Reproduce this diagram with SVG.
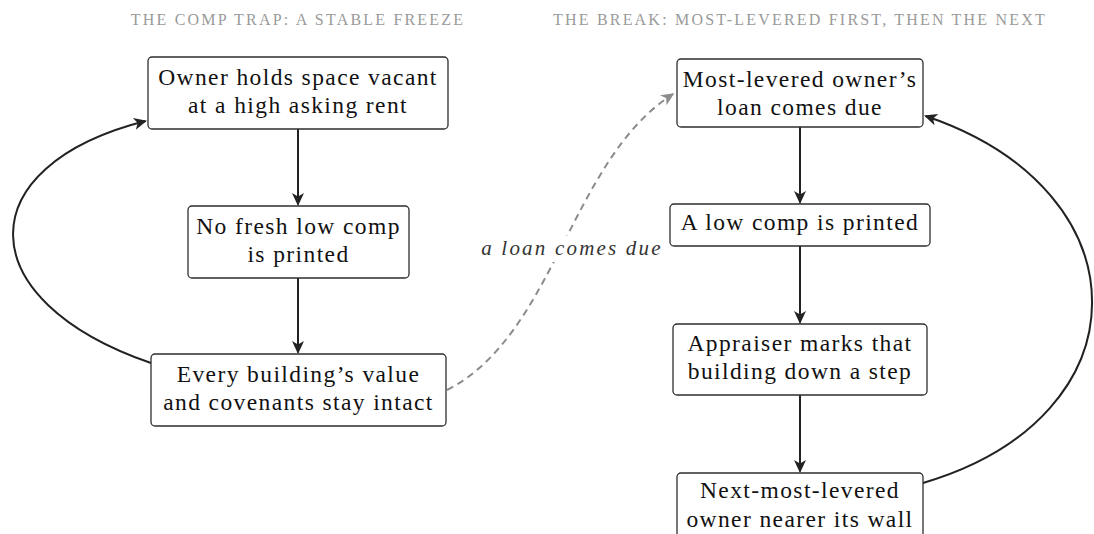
<svg xmlns="http://www.w3.org/2000/svg" width="1094" height="534" viewBox="0 0 1094 534">
<style>
.bg{fill:#ffffff}
.box{fill:#ffffff;stroke:#2e2e2e;stroke-width:1.3}
.t{font-family:"Liberation Serif","Times New Roman",serif;font-size:23.5px;fill:#111111;text-anchor:middle;letter-spacing:1.4px}
.title{font-family:"Liberation Serif","Times New Roman",serif;font-size:16px;fill:#9a9a9a;text-anchor:middle;letter-spacing:2.2px}
.lbl{font-family:"Liberation Serif","Times New Roman",serif;font-size:21px;font-style:italic;fill:#333333;text-anchor:middle;letter-spacing:2.2px}
.edge{fill:none;stroke:#222222;stroke-width:2}
.dash{fill:none;stroke:#8c8c8c;stroke-width:2;stroke-dasharray:7 5}
</style>
<defs>
<marker id="ah" markerUnits="userSpaceOnUse" markerWidth="18" markerHeight="16" refX="0" refY="0" viewBox="-15 -8 18 16" orient="auto" overflow="visible">
<path d="M1.5,0 L-11.5,-6 L-8,0 L-11.5,6 Z" fill="#222222"/>
</marker>
<marker id="ahg" markerUnits="userSpaceOnUse" markerWidth="18" markerHeight="16" refX="0" refY="0" viewBox="-15 -8 18 16" orient="auto" overflow="visible">
<path d="M1.5,0 L-11.5,-6 L-8,0 L-11.5,6 Z" fill="#8c8c8c"/>
</marker>
</defs>
<rect class="bg" x="0" y="0" width="1094" height="534"/>
<g id="titles">
<text class="title" x="298" y="25">THE COMP TRAP: A STABLE FREEZE</text>
<text class="title" x="800" y="25">THE BREAK: MOST-LEVERED FIRST, THEN THE NEXT</text>
</g>
<g id="connectors">
<path class="edge" d="M298,129 L298,204.5" marker-end="url(#ah)"/>
<path class="edge" d="M298,278 L298,352.5" marker-end="url(#ah)"/>
<path class="edge" d="M151,363 C-32,300 -32,166 145.5,121" marker-end="url(#ah)"/>
<path class="edge" d="M800,127 L800,202.5" marker-end="url(#ah)"/>
<path class="edge" d="M800,246 L800,322.5" marker-end="url(#ah)"/>
<path class="edge" d="M800,395 L800,471.5" marker-end="url(#ah)"/>
<path class="edge" d="M923,483 C1148,417 1148,191 925.5,116" marker-end="url(#ah)"/>
<path class="dash" d="M447,390 C555,335 570,160 673,94" marker-end="url(#ahg)"/>
<g id="edge-label">
<rect x="478" y="236" width="188" height="26" fill="#ffffff"/>
<text class="lbl" x="572" y="255">a loan comes due</text>
</g>
</g>
<g id="n-owner-holds">
<rect class="box" x="148" y="57" width="300" height="72" rx="4"/>
<text class="t" x="298" y="85">Owner holds space vacant</text>
<text class="t" x="298" y="113">at a high asking rent</text>
</g>
<g id="n-no-fresh-comp">
<rect class="box" x="188" y="206" width="221" height="72" rx="4"/>
<text class="t" x="298.5" y="234">No fresh low comp</text>
<text class="t" x="298.5" y="262">is printed</text>
</g>
<g id="n-values-intact">
<rect class="box" x="151" y="354" width="295" height="72" rx="4"/>
<text class="t" x="298.5" y="382">Every building’s value</text>
<text class="t" x="298.5" y="410">and covenants stay intact</text>
</g>
<g id="n-loan-due">
<rect class="box" x="677" y="59" width="246" height="68" rx="4"/>
<text class="t" x="800" y="87">Most-levered owner’s</text>
<text class="t" x="800" y="115">loan comes due</text>
</g>
<g id="n-low-comp">
<rect class="box" x="670" y="204" width="260" height="42" rx="4"/>
<text class="t" x="800" y="230">A low comp is printed</text>
</g>
<g id="n-appraiser">
<rect class="box" x="673" y="324" width="254" height="71" rx="4"/>
<text class="t" x="800" y="351">Appraiser marks that</text>
<text class="t" x="800" y="379">building down a step</text>
</g>
<g id="n-next-owner">
<rect class="box" x="677" y="473" width="246" height="72" rx="4"/>
<text class="t" x="800" y="498">Next-most-levered</text>
<text class="t" x="800" y="527">owner nearer its wall</text>
</g>
</svg>
